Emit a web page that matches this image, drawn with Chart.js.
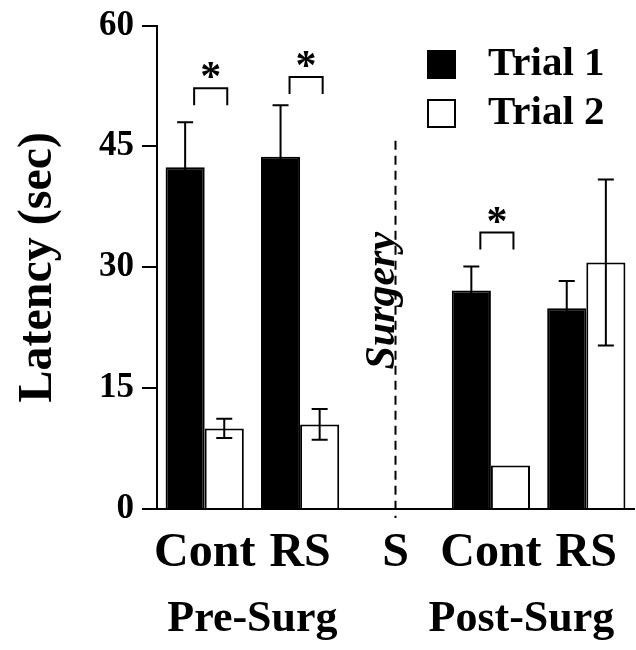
<!DOCTYPE html>
<html>
<head>
<meta charset="utf-8">
<script src="https://cdn.jsdelivr.net/npm/chart.js@4/dist/chart.umd.min.js"></script>
<style>
  html, body { margin: 0; padding: 0; background: #fff; }
  #wrap { width: 636px; height: 650px; position: relative; }
</style>
</head>
<body>
<div id="wrap"><canvas id="c" width="636" height="650"></canvas></div>
<script>
// ---- data ----
const categories = ['Cont', 'RS', 'S', 'Cont', 'RS'];
const seriesNames = ['Trial 1', 'Trial 2'];
const trial1 = [42.4, 43.7, null, 27.1, 24.9];
const trial2 = [10.0, 10.5, null, 5.4, 30.6];
const trial1Err = [5.6, 6.4, null, 3.0, 3.4];
const trial2Err = [1.2, 1.9, null, 0, 10.3];
const yTicks = [0, 15, 30, 45, 60];
const groupLabels = ['Pre-Surg', 'Post-Surg'];
const groupCenters = [0.5, 3.32];          // category-index positions of the group labels
const sigCategories = [0, 1, 3];           // categories with a significant Trial1 vs Trial2 difference
const sigHeights = [52.2, 53.6, 34.3];     // bracket heights (sec)
const surgeryCategory = 2;
const surgeryLabel = 'Surgery';
const yTitle = 'Latency (sec)';

const SERIF = "'Liberation Serif', 'Times New Roman', serif";

const overlayPlugin = {
  id: 'overlay',
  afterDatasetsDraw(chart) {
    const ctx = chart.ctx;
    const x = chart.scales.x, y = chart.scales.y;
    const errs = [trial1Err, trial2Err];
    const vals = [trial1, trial2];
    ctx.save();
    ctx.strokeStyle = '#000';
    ctx.lineWidth = 2;
    // error bars
    [0, 1].forEach(di => {
      const meta = chart.getDatasetMeta(di);
      meta.data.forEach((bar, i) => {
        const v = vals[di][i], e = errs[di][i];
        if (v == null || !e) return;
        const yt = y.getPixelForValue(v + e), yb = y.getPixelForValue(v - e);
        ctx.beginPath();
        ctx.moveTo(bar.x, yb); ctx.lineTo(bar.x, yt);
        ctx.moveTo(bar.x - 8, yt); ctx.lineTo(bar.x + 8, yt);
        if (di === 1) { ctx.moveTo(bar.x - 8, yb); ctx.lineTo(bar.x + 8, yb); }
        ctx.stroke();
      });
    });
    // significance brackets
    const m0 = chart.getDatasetMeta(0), m1 = chart.getDatasetMeta(1);
    sigCategories.forEach((ci, k) => {
      const xl = m0.data[ci].x + 9, xr = m1.data[ci].x + 3;
      const yt = y.getPixelForValue(sigHeights[k]);
      ctx.beginPath();
      ctx.moveTo(xl, yt + 17); ctx.lineTo(xl, yt); ctx.lineTo(xr, yt); ctx.lineTo(xr, yt + 17);
      ctx.stroke();
      ctx.fillStyle = '#000';
      ctx.font = 'bold 42px ' + SERIF;
      ctx.textAlign = 'center';
      ctx.textBaseline = 'alphabetic';
      ctx.fillText('*', (xl + xr) / 2, yt + 2);
    });
    // surgery dashed line
    const sx = x.getPixelForValue(surgeryCategory);
    ctx.setLineDash([9, 6]);
    ctx.beginPath();
    ctx.moveTo(sx, y.getPixelForValue(45.7));
    ctx.lineTo(sx, y.bottom + 9);
    ctx.stroke();
    ctx.setLineDash([]);
    // surgery label
    ctx.save();
    ctx.translate(sx - 2, y.getPixelForValue(17.3));
    ctx.rotate(-Math.PI / 2);
    ctx.font = 'italic bold 42px ' + SERIF;
    ctx.textAlign = 'left';
    ctx.textBaseline = 'alphabetic';
    ctx.fillStyle = '#000';
    ctx.fillText(surgeryLabel, 0, 0);
    ctx.restore();
    // legend
    ctx.font = 'bold 41px ' + SERIF;
    ctx.textAlign = 'left';
    ctx.textBaseline = 'alphabetic';
    const lx = 427, ly = [50, 99];
    chart.data.datasets.forEach((ds, i) => {
      ctx.fillStyle = ds.backgroundColor;
      ctx.fillRect(lx, ly[i], 29, 29);
      ctx.lineWidth = 2;
      ctx.strokeStyle = '#000';
      ctx.strokeRect(lx + 1, ly[i] + 1, 27, 27);
      ctx.fillStyle = '#000';
      ctx.fillText(ds.label, 488, ly[i] + 25);
    });
    // group labels
    ctx.font = 'bold 44px ' + SERIF;
    ctx.textAlign = 'center';
    groupLabels.forEach((g, i) => {
      ctx.fillText(g, x.getPixelForValue(groupCenters[i]), 631);
    });
    ctx.restore();
  }
};

new Chart(document.getElementById('c'), {
  type: 'bar',
  data: {
    labels: categories,
    datasets: [
      { label: seriesNames[0], data: trial1, backgroundColor: '#000', borderColor: '#000', borderWidth: 2 },
      { label: seriesNames[1], data: trial2, backgroundColor: '#fff', borderColor: '#000', borderWidth: 2 }
    ]
  },
  options: {
    responsive: false,
    animation: false,
    devicePixelRatio: 1,
    layout: { padding: { top: 24, right: 2, left: 0, bottom: 0 } },
    categoryPercentage: 0.82,
    barPercentage: 1.0,
    plugins: { legend: { display: false }, tooltip: { enabled: false } },
    scales: {
      x: {
        grid: { display: false },
        border: { display: true, color: '#000', width: 2 },
        ticks: {
          color: '#000',
          font: { family: SERIF, size: 48, weight: 'bold' },
          padding: 8,
          maxRotation: 0,
          autoSkip: false
        },
        afterFit(s) { s.height = 141; }
      },
      y: {
        min: 0, max: 60,
        afterBuildTicks(s) { s.ticks = yTicks.map(v => ({ value: v })); },
        grid: { drawOnChartArea: false, color: '#000', lineWidth: 2, tickLength: 15 },
        border: { display: true, color: '#000', width: 2 },
        ticks: {
          color: '#000',
          font: { family: SERIF, size: 35, weight: 'bold', lineHeight: 1 },
          padding: 8
        },
        title: {
          display: true,
          text: yTitle,
          color: '#000',
          font: { family: SERIF, size: 48, weight: 'bold' },
          padding: { top: 10, bottom: 0 }
        },
        afterFit(s) { s.width = 157; }
      }
    }
  },
  plugins: [overlayPlugin]
});
</script>
</body>
</html>
